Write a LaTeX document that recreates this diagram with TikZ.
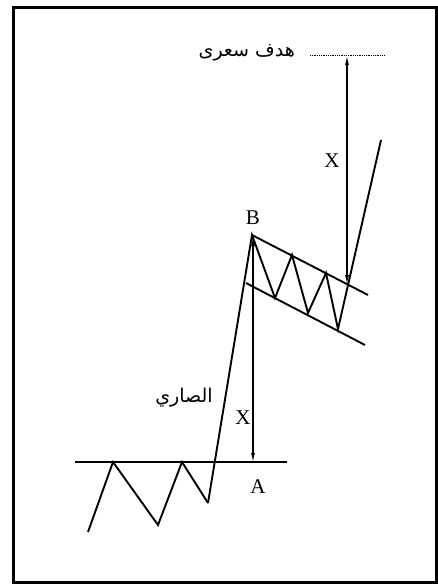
\documentclass[tikz,border=0pt]{standalone}
\usepackage{fontspec}
\setmainfont{Liberation Serif}
\newfontfamily\arabicfont[Script=Arabic]{DejaVu Sans}
\TeXXeTstate=1
\usetikzlibrary{positioning,calc,arrows.meta}
\tikzset{
  frame box/.style={
    line width=3pt, draw=black,
  },
  price line/.style={
    line width=1.9pt, line join=miter,
  },
  measure arrow/.style={
    line width=1.1pt,
    {Latex[length=9pt,width=4pt]}-{Latex[length=9pt,width=4pt]},
  },
  target line/.style={
    line width=0.8pt, densely dotted,
  },
  point label/.style={
    font=\fontsize{21}{22}\selectfont, inner sep=1pt,
  },
  arabic label/.style={
    font=\arabicfont\fontsize{19}{22}\selectfont, inner sep=1pt,
  },
}

\begin{document}
\begin{tikzpicture}[x=1pt,y=-1pt]

\useasboundingbox (0,0) rectangle (438,587);
\draw[frame box] (13,7) rectangle (436,582);

% --- base: horizontal level A and the zigzag under it ---
\coordinate (lvlW) at (75,462);
\coordinate (lvlE) at (287,462);
\coordinate (z0) at (88,532);
\coordinate (z1) at (113,462);
\coordinate (z2) at (158,525);
\coordinate (z3) at (182,462);
\coordinate (z4) at (208,503);
\draw[price line] (lvlW) -- (lvlE);
\draw[price line] (z0) -- (z1) -- (z2) -- (z3) -- (z4);

% --- mast up to B, then the flag ---
\coordinate (ptB) at (252,235);
\coordinate (f1) at (275,298);
\coordinate (f2) at (292,255);
\coordinate (f3) at (308,313);
\coordinate (f4) at (326,273);
\coordinate (f5) at (338,329);
\coordinate (brk) at (381,140);
\draw[price line] (z4) -- (ptB) -- (f1) -- (f2) -- (f3) -- (f4) -- (f5) -- (brk);

% channel lines of the flag
\coordinate (upE) at (368,295);
\coordinate (loW) at (246,283);
\coordinate (loE) at (365,345);
\draw[price line] (ptB) -- (upE);
\draw[price line] (loW) -- (loE);

% --- measured moves ---
\coordinate (ptA) at (253,462);
\coordinate (ptBx) at (253,237);
\draw[measure arrow] (ptBx) -- (ptA);

\coordinate (tgtW) at (310,55);
\coordinate (tgtE) at (385,55);
\coordinate (tgt) at (347,56);
\coordinate (tgtFoot) at (347,284);
\draw[target line] (tgtW) -- (tgtE);
\draw[measure arrow] (tgt) -- (tgtFoot);

% --- labels ---
\node[point label] (lblB) at (253,218) {B};
\node[point label] (lblA) at (258,487) {A};
\node[point label] (lblX1) at (243,418) {X};
\node[point label] (lblX2) at (332,161) {X};
\node[arabic label, left=14pt of tgtW, yshift=2pt] (lblTarget)
  {\beginR هدف سعرى\endR};
\node[arabic label] (lblMast) at (184,398) {\beginR الصاري\endR};

\end{tikzpicture}
\end{document}
